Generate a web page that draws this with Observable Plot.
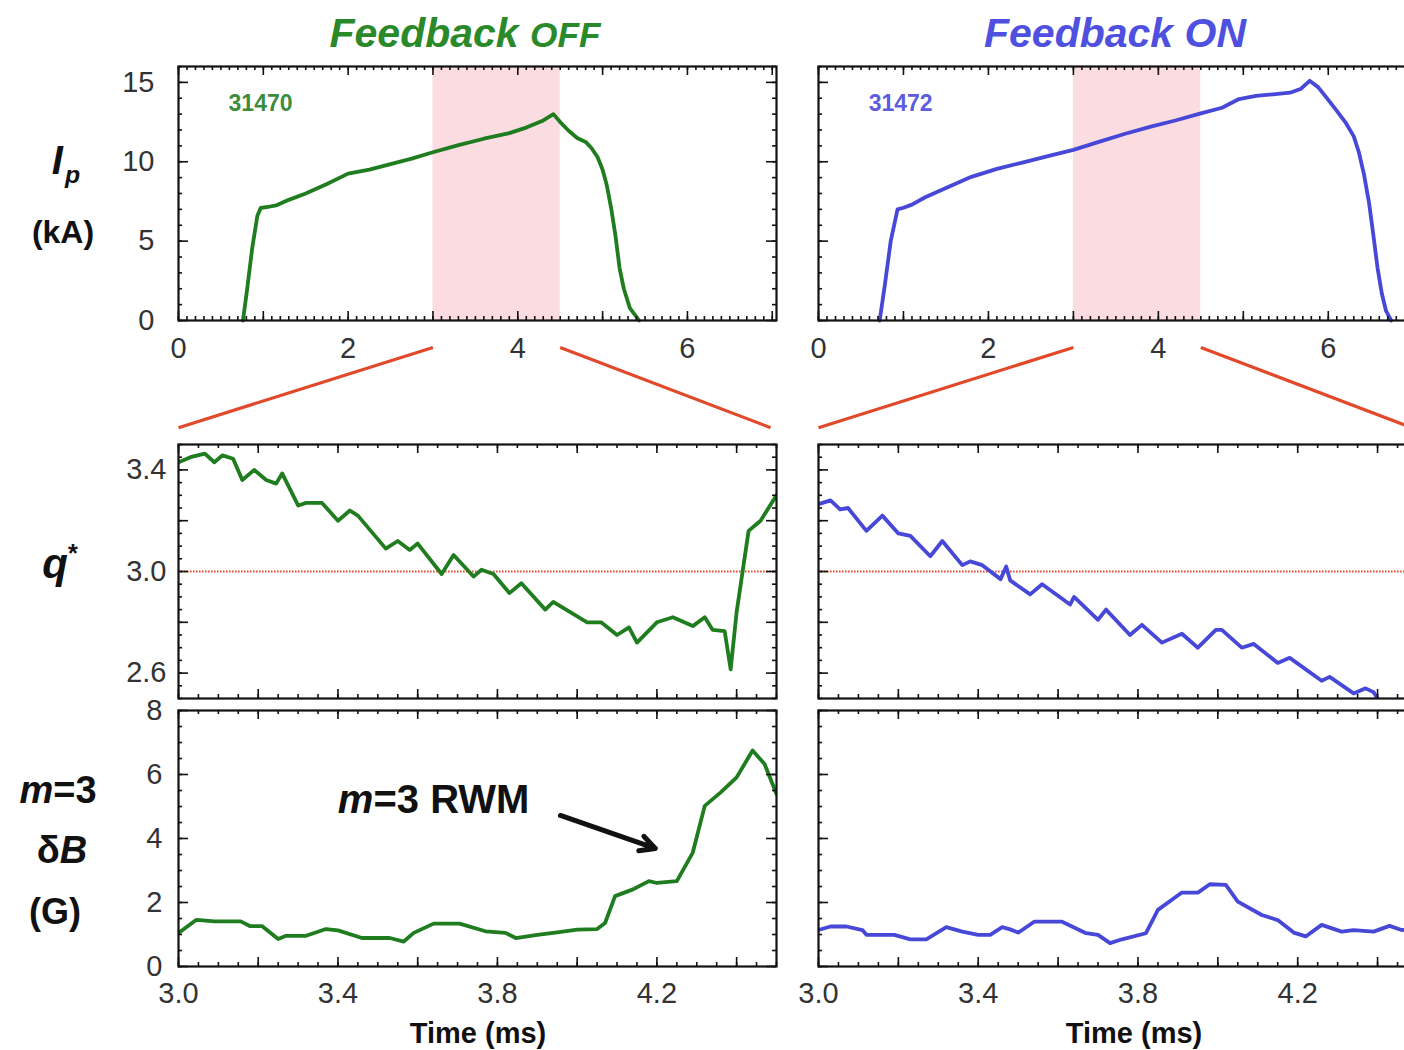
<!DOCTYPE html>
<html><head><meta charset="utf-8">
<script src="https://cdn.jsdelivr.net/npm/d3@7"></script>
<script src="https://cdn.jsdelivr.net/npm/@observablehq/plot@0.6"></script>
<style>
html,body{margin:0;padding:0;background:#fff;overflow:hidden;}
#fig{position:relative;width:1404px;height:1050px;overflow:hidden;background:#fff;font-family:"Liberation Sans",Arial,Helvetica,sans-serif;}
.lbl{position:absolute;transform:translate(-50%,-50%);white-space:nowrap;line-height:1;font-weight:bold;color:#111;}
</style></head><body><div id="fig"></div>
<script>
// ---------- data ----------
const ipOffT = [0.76,0.81,0.87,0.93,0.97,1.05,1.15,1.3,1.5,1.75,2.0,2.25,2.5,2.75,3.0,3.3,3.6,3.9,4.1,4.3,4.42,4.5,4.6,4.7,4.8,4.87,4.94,5.0,5.05,5.1,5.15,5.2,5.25,5.32,5.43];
const ipOffV = [0,2.0,4.6,6.6,7.1,7.15,7.25,7.6,8.0,8.6,9.25,9.5,9.85,10.2,10.6,11.05,11.45,11.8,12.15,12.6,13.0,12.5,11.95,11.5,11.25,10.85,10.3,9.5,8.5,7.1,5.4,3.3,2.0,0.8,0];
const ipOnT = [0.72,0.78,0.85,0.93,1.0,1.1,1.25,1.5,1.8,2.1,2.4,2.7,3.0,3.3,3.6,3.9,4.2,4.5,4.75,4.95,5.15,5.35,5.55,5.68,5.78,5.88,6.0,6.1,6.2,6.3,6.36,6.42,6.48,6.53,6.58,6.63,6.68,6.74];
const ipOnV = [0,2.2,5.0,7.0,7.1,7.3,7.75,8.35,9.05,9.55,9.95,10.35,10.75,11.25,11.75,12.2,12.6,13.05,13.4,13.95,14.15,14.25,14.35,14.6,15.1,14.7,13.9,13.2,12.5,11.6,10.6,9.2,7.4,5.4,3.3,1.7,0.6,0];

const qOffT = [3.0,3.03,3.066,3.09,3.11,3.137,3.16,3.19,3.22,3.245,3.26,3.30,3.32,3.36,3.40,3.43,3.45,3.52,3.55,3.58,3.60,3.66,3.69,3.74,3.76,3.79,3.83,3.86,3.92,3.94,4.025,4.06,4.10,4.13,4.15,4.20,4.24,4.29,4.32,4.34,4.37,4.385,4.40,4.415,4.43,4.46,4.50];
const qOffV = [3.43,3.45,3.464,3.43,3.457,3.444,3.36,3.40,3.36,3.346,3.386,3.26,3.27,3.27,3.20,3.24,3.22,3.09,3.12,3.085,3.11,2.99,3.065,2.98,3.007,2.99,2.915,2.954,2.85,2.88,2.80,2.80,2.75,2.78,2.72,2.80,2.82,2.785,2.82,2.77,2.765,2.615,2.84,3.0,3.16,3.20,3.30];
const qOnT = [3.0,3.03,3.054,3.074,3.12,3.16,3.20,3.23,3.28,3.31,3.36,3.38,3.41,3.456,3.47,3.48,3.53,3.56,3.63,3.64,3.70,3.72,3.78,3.81,3.86,3.91,3.95,3.995,4.01,4.06,4.09,4.15,4.18,4.26,4.28,4.34,4.37,4.39,4.40];
const qOnV = [3.265,3.28,3.245,3.25,3.16,3.22,3.15,3.14,3.06,3.12,3.025,3.04,3.025,2.97,3.02,2.965,2.91,2.95,2.87,2.90,2.81,2.85,2.75,2.79,2.72,2.755,2.70,2.77,2.77,2.70,2.715,2.64,2.66,2.57,2.585,2.52,2.54,2.525,2.50];

const dbOffT = [3.0,3.045,3.09,3.156,3.18,3.21,3.25,3.27,3.32,3.37,3.40,3.46,3.53,3.565,3.59,3.64,3.705,3.77,3.82,3.846,3.90,3.95,4.0,4.05,4.07,4.095,4.14,4.18,4.20,4.25,4.29,4.32,4.36,4.40,4.44,4.47,4.50];
const dbOffV = [1.05,1.46,1.41,1.41,1.26,1.26,0.86,0.96,0.96,1.17,1.13,0.89,0.89,0.78,1.05,1.34,1.34,1.10,1.05,0.89,0.99,1.07,1.15,1.17,1.36,2.2,2.41,2.67,2.61,2.67,3.56,5.02,5.44,5.91,6.75,6.33,5.39];
const dbOnT = [3.0,3.03,3.07,3.11,3.12,3.19,3.23,3.27,3.32,3.36,3.40,3.43,3.46,3.48,3.50,3.51,3.54,3.61,3.67,3.70,3.73,3.76,3.82,3.85,3.91,3.95,3.98,4.02,4.05,4.11,4.15,4.19,4.22,4.26,4.31,4.34,4.39,4.43,4.46,4.50];
const dbOnV = [1.14,1.25,1.25,1.14,0.99,0.99,0.85,0.85,1.23,1.09,0.99,0.99,1.23,1.16,1.06,1.14,1.40,1.40,1.04,0.99,0.73,0.85,1.04,1.77,2.31,2.31,2.57,2.55,2.03,1.61,1.45,1.06,0.94,1.30,1.09,1.14,1.09,1.27,1.14,1.15];

const shots = ["31470","31472"];
const titles = ["Feedback", "Feedback"];
const zoomWindow = [3.0, 4.5];
const q0 = [3.0];
const ipTicks = [0,5,10,15];
const tFullTicks = [0,2,4,6];
const qTicks = [2.6,3.0,3.4];
const dbTicks = [0,2,4,6,8];
const tZoomTicks = [3.0,3.4,3.8,4.2];

const GREEN = "#1f7d1f", BLUE = "#4747d8", PINK = "#fbdce1", RED = "#e2482a";
const zip = (T,V) => T.map((t,i) => ({t, v: V[i]}));

const fig = document.getElementById("fig");
const FONT = "Liberation Sans, Arial, Helvetica, sans-serif";
const range = (a,b,s) => d3.range(Math.round((b-a)/s)+1).map(i => +(a+i*s).toFixed(4));

function frameTicks(fw, fh, xMinor, xMajor, yMinor, yMajor) {
  const st = {stroke:"#111", strokeWidth:1.6};
  const m = [];
  for (const [vals, len] of [[xMinor,4],[xMajor,9]]) {
    m.push(Plot.tickX(vals, {x:d=>d, insetTop: fh-len, ...st}));
    m.push(Plot.tickX(vals, {x:d=>d, insetBottom: fh-len, ...st}));
  }
  for (const [vals, len] of [[yMinor,4],[yMajor,10]]) {
    m.push(Plot.tickY(vals, {y:d=>d, insetRight: fw-len, ...st}));
    m.push(Plot.tickY(vals, {y:d=>d, insetLeft: fw-len, ...st}));
  }
  return m;
}

function panel({left, top, fw, fh, ml, mt, mr, mb, xDomain, yDomain, marks}) {
  const svg = Plot.plot({
    width: ml+fw+mr, height: mt+fh+mb,
    marginLeft: ml, marginTop: mt, marginRight: mr, marginBottom: mb,
    x: {domain: xDomain, axis: null, label: null},
    y: {domain: yDomain, axis: null, label: null},
    style: {fontFamily: FONT, color: "#333", background: "none", overflow: "visible"},
    marks
  });
  svg.style.position = "absolute";
  svg.style.left = (left - ml) + "px";
  svg.style.top = (top - mt) + "px";
  svg.style.maxWidth = "none";
  fig.appendChild(svg);
}

const cols = [
  {left:178, fw:598, color:GREEN, ip: zip(ipOffT, ipOffV), q: zip(qOffT, qOffV), db: zip(dbOffT, dbOffV), shot: shots[0], yLabels: true},
  {left:818, fw:599, color:BLUE, ip: zip(ipOnT, ipOnV), q: zip(qOnT, qOnV), db: zip(dbOnT, dbOnV), shot: shots[1], yLabels: false}
];
const rows = {top:{y:66,h:254}, mid:{y:444,h:254}, bot:{y:710,h:256}};
const tFull = [0, 7.05];

cols.forEach((c, ci) => {
  const ml = c.yLabels ? 100 : 20;
  const connectors = [
    {x1: zoomWindow[0], y1: -1.7, x2: tFull[0], y2: -6.75},
    {x1: zoomWindow[1], y1: -1.7, x2: 6.98, y2: -6.75}
  ];
  // --- top: plasma current ---
  panel({left:c.left, top:rows.top.y, fw:c.fw, fh:rows.top.h, ml, mt:10, mr:20, mb:120,
    xDomain: tFull, yDomain:[0,16],
    marks: [
      Plot.rect([zoomWindow], {x1: d=>d[0], x2: d=>d[1], fill: PINK}),
      Plot.line(c.ip, {x:"t", y:"v", stroke:c.color, strokeWidth:3.8, strokeLinejoin:"round"}),
      Plot.text([c.shot], {x:0.59, y:13.65, text:d=>d, textAnchor:"start", fill:c.color, fontSize:23, fontWeight:"bold", fillOpacity:0.9}),
      Plot.frame({stroke:"#111", strokeWidth:2.2}),
      ...frameTicks(c.fw, rows.top.h, range(0,7,0.1), range(0,7,1), range(0,16,1), range(0,15,5)),
      Plot.axisX(tFullTicks, {tickSize:0, tickPadding:17, fontSize:29, label:null, tickFormat:d3.format("d")}),
      ...(c.yLabels ? [Plot.axisY(ipTicks, {tickSize:0, tickPadding:24, fontSize:29, label:null, tickFormat:d3.format("d")})] : []),
      Plot.link(connectors, {x1:"x1", y1:"y1", x2:"x2", y2:"y2", stroke:RED, strokeWidth:3.2})
    ]});

  // --- middle: q* ---
  panel({left:c.left, top:rows.mid.y, fw:c.fw, fh:rows.mid.h, ml, mt:10, mr:20, mb:8,
    xDomain: zoomWindow, yDomain:[2.5,3.5],
    marks: [
      Plot.ruleY(q0, {stroke:"#e8503a", strokeWidth:2, strokeDasharray:"1.6,1.4"}),
      Plot.line(c.q, {x:"t", y:"v", stroke:c.color, strokeWidth:3.8, strokeLinejoin:"round", clip:true}),
      Plot.frame({stroke:"#111", strokeWidth:2.2}),
      ...frameTicks(c.fw, rows.mid.h, range(3,4.5,0.05), range(3,4.4,0.2), range(2.5,3.5,0.05), range(2.6,3.4,0.2)),
      ...(c.yLabels ? [Plot.axisY(qTicks, {tickSize:0, tickPadding:12, fontSize:29, label:null, tickFormat:d3.format(".1f")})] : [])
    ]});

  // --- bottom: m=3 dB ---
  const extra = ci === 0 ? [
    Plot.text(["m"], {x:3.489, y:5.19, text:d=>d, textAnchor:"end", fontSize:40, fontWeight:"bold", fontStyle:"italic", fill:"#111"}),
    Plot.text(["=3 RWM"], {x:3.489, y:5.19, text:d=>d, textAnchor:"start", fontSize:40, fontWeight:"bold", fill:"#111"}),
    Plot.arrow([{x1:3.958, y1:4.72, x2:4.196, y2:3.69}], {x1:"x1", y1:"y1", x2:"x2", y2:"y2", stroke:"#111", strokeWidth:5, headLength:5, headAngle:55})
  ] : [];
  panel({left:c.left, top:rows.bot.y, fw:c.fw, fh:rows.bot.h, ml, mt:10, mr:20, mb:80,
    xDomain: zoomWindow, yDomain:[0,8],
    marks: [
      Plot.line(c.db, {x:"t", y:"v", stroke:c.color, strokeWidth:3.8, strokeLinejoin:"round", clip:true}),
      ...extra,
      Plot.frame({stroke:"#111", strokeWidth:2.2}),
      ...frameTicks(c.fw, rows.bot.h, range(3,4.5,0.05), range(3,4.4,0.2), range(0,8,0.5), range(0,8,2)),
      Plot.axisX(tZoomTicks, {tickSize:0, tickPadding:16, fontSize:29, label:null, tickFormat:d3.format(".1f")}),
      ...(c.yLabels ? [Plot.axisY(dbTicks, {tickSize:0, tickPadding:16, fontSize:29, label:null, tickFormat:d3.format("d")})] : [])
    ]});
});

// ---------- text labels ----------
function label(html, x, y, css) {
  const d = document.createElement("div");
  d.className = "lbl";
  d.innerHTML = html;
  d.style.left = x + "px"; d.style.top = y + "px";
  Object.assign(d.style, css || {});
  fig.appendChild(d);
}
label(`<i>${titles[0]}</i> <i style="font-size:0.86em">OFF</i>`, 465, 33, {fontSize:"41px", color:"#2a8a2a"});
label(`<i>${titles[1]} ON</i>`, 1115, 33, {fontSize:"41px", color:"#5050e0"});
label(`<i>I</i><i style="font-size:0.62em;position:relative;top:0.35em;margin-left:2px">p</i>`, 66, 160, {fontSize:"40px"});
label(`(kA)`, 63, 232, {fontSize:"32px"});
label(`<i>q</i><sup style="font-size:0.6em;vertical-align:0.6em">*</sup>`, 60, 563, {fontSize:"42px"});
label(`<i>m</i>=3`, 58, 790, {fontSize:"38px"});
label(`&delta;<i>B</i>`, 62, 850, {fontSize:"38px"});
label(`(G)`, 55, 912, {fontSize:"36px", fontWeight:"600"});
label(`Time (ms)`, 478, 1033, {fontSize:"29px"});
label(`Time (ms)`, 1134, 1033, {fontSize:"29px"});
</script></body></html>
